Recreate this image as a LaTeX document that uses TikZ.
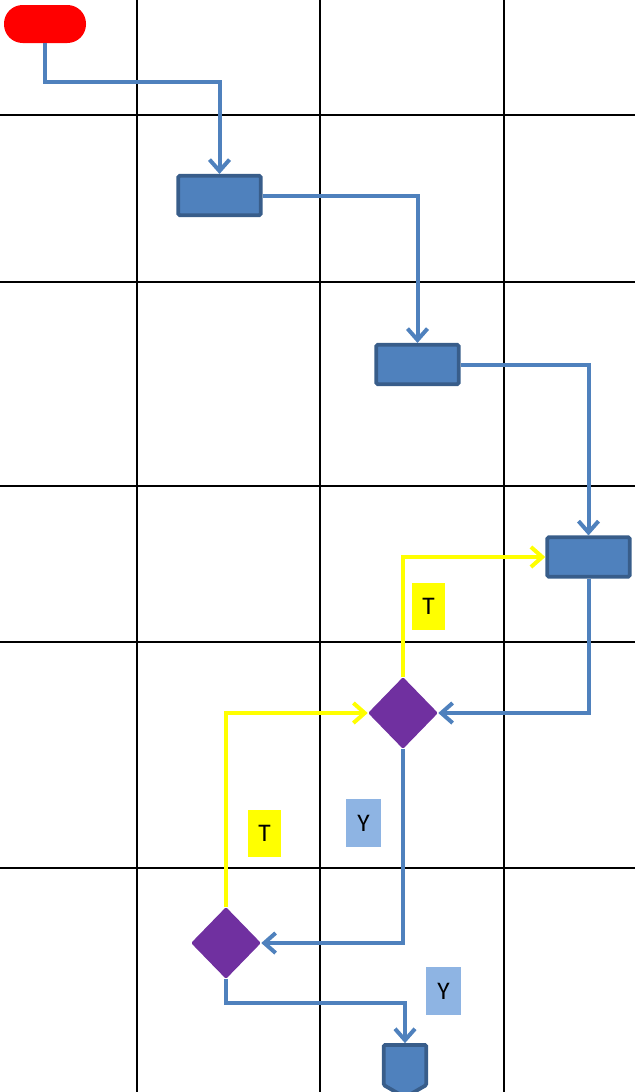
\documentclass[tikz,border=0pt]{standalone}
\usepackage{fontspec}
\setmainfont{Carlito}
\usetikzlibrary{arrows.meta,shapes.geometric,shapes.symbols}
\definecolor{flowblue}{HTML}{4F81BD}
\definecolor{boxborder}{HTML}{385D8A}
\definecolor{decpurple}{HTML}{7030A0}
\definecolor{lblblue}{HTML}{8EB4E3}
\definecolor{yel}{HTML}{FFFF00}
\tikzset{
  gridline/.style={line width=1.5pt,black},
  procbox/.style={rectangle,rounded corners=1.2pt,fill=flowblue,draw=boxborder,line width=2.8pt,minimum width=62pt,minimum height=29.5pt,inner sep=0pt},
  decision/.style={diamond,rounded corners=1pt,fill=decpurple,minimum width=52.5pt,minimum height=54pt,inner sep=0pt},
  startbox/.style={rectangle,rounded corners=14pt,fill=red,minimum width=61.5pt,minimum height=28.5pt,inner sep=0pt},
  endbox/.style={signal,signal to=south,signal from=nowhere,signal pointer angle=120,rounded corners=1pt,fill=flowblue,draw=boxborder,line width=2.8pt,minimum width=32pt,minimum height=30pt,inner sep=0pt},
  flow/.style={draw=flowblue,line width=3pt,-{Straight Barb[length=8.5pt,width=15pt]}},
  yflow/.style={draw=yel,line width=3pt,-{Straight Barb[length=8.5pt,width=15pt]}},
  tlabel/.style={fill=yel,minimum width=24.75pt,minimum height=35.25pt,inner sep=0pt,font=\fontsize{19}{21}\selectfont},
  ylabel/.style={fill=lblblue,minimum width=26pt,minimum height=36pt,inner sep=0pt,font=\fontsize{19}{21}\selectfont},
}
\begin{document}
\begin{tikzpicture}[x=0.75pt,y=-0.75pt]
\useasboundingbox (0,0) rectangle (635,1092);
% grid
\foreach \gx in {137,320,504} \draw[gridline] (\gx,0) -- (\gx,1092);
\foreach \gy in {115,282,486,642,868} \draw[gridline] (0,\gy) -- (635,\gy);
% nodes
\node[startbox] (start) at (45,24) {};
\node[procbox] (b1) at (219.5,195.5) {};
\node[procbox] (b2) at (417.5,364.5) {};
\node[procbox] (b3) at (588.5,557) {};
\node[decision] (d1) at (403,713) {};
\node[decision] (d2) at (226,943) {};
\node[endbox] (end) at (405,1065) {};
\node[tlabel] (t1) at (428.5,606.5) {T};
\node[tlabel] (t2) at (264.5,833) {T};
\node[ylabel] (y1) at (363.5,823) {Y};
\node[ylabel] (y2) at (443.5,991) {Y};
% connectors
\draw[flow] (start.south) -- ++(0,39) -| (b1.north);
\draw[flow] (b1.east) -| (b2.north);
\draw[flow] (b2.east) -| (b3.north);
\draw[flow] (b3.south) |- (d1.east);
\draw[yflow] (d1.north) |- (b3.west);
\draw[flow] (d1.south) |- (d2.east);
\draw[yflow] (d2.north) |- (d1.west);
\draw[flow] (d2.south) -- ++(0,24) -| (end.north);
\end{tikzpicture}
\end{document}
